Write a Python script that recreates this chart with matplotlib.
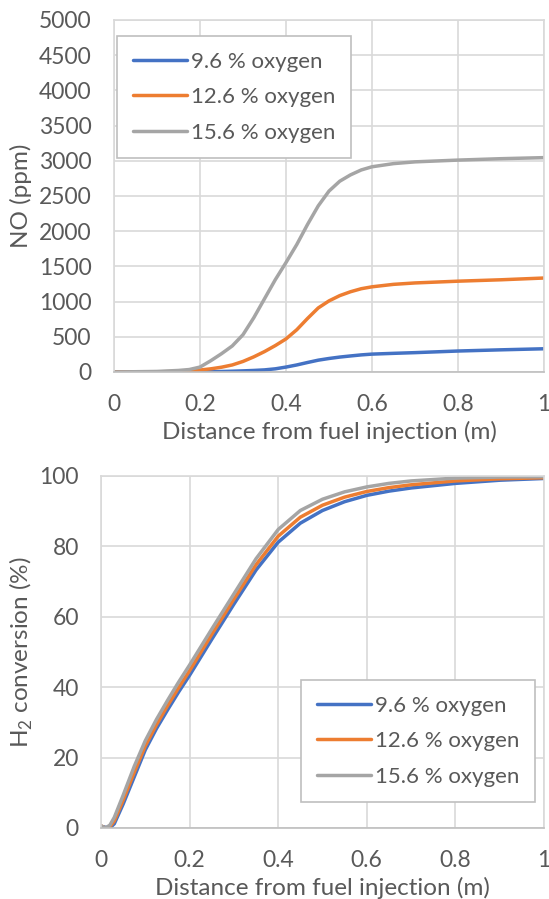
import numpy as np
import matplotlib.pyplot as plt

plt.rcParams['font.family'] = ['Lato', 'DejaVu Sans']
plt.rcParams['mathtext.fontset'] = 'custom'
plt.rcParams['mathtext.rm'] = 'Lato'

labels = ['9.6 % oxygen', '12.6 % oxygen', '15.6 % oxygen']
colors = ['#4472C4', '#ED7D31', '#A5A5A5']

# NO profiles (ppm) vs distance (m)
x_no = [0, 0.1, 0.15, 0.175, 0.2, 0.225, 0.25, 0.275, 0.3, 0.325, 0.35, 0.375, 0.4,
        0.425, 0.45, 0.475, 0.5, 0.525, 0.55, 0.575, 0.6, 0.65, 0.7, 0.8, 0.9, 1.0]
no_96 = [0, 0, 0, 1, 2, 4, 7, 11, 16, 22, 30, 45, 70,
         100, 135, 168, 192, 212, 228, 243, 254, 265, 275, 298, 315, 330]
no_126 = [0, 2, 8, 15, 28, 45, 68, 100, 150, 215, 290, 375, 470,
          600, 760, 910, 1010, 1085, 1140, 1183, 1210, 1245, 1265, 1290, 1310, 1335]
no_156 = [0, 8, 22, 35, 70, 160, 260, 370, 530, 770, 1040, 1310, 1555,
          1810, 2095, 2360, 2570, 2710, 2800, 2870, 2915, 2960, 2985, 3010, 3030, 3045]

# H2 conversion (%) vs distance (m)
x_h2 = [0, 0.01, 0.02, 0.03, 0.05, 0.075, 0.1, 0.125, 0.15, 0.175, 0.2, 0.25, 0.3,
        0.35, 0.4, 0.45, 0.5, 0.55, 0.6, 0.65, 0.7, 0.8, 0.9, 1.0]
h2_96 = [0.5, 0.2, 0, 1.2, 6.8, 14.5, 22.2, 28.2, 33.5, 38.6, 43.4, 53.6, 63.6,
         73.3, 81.2, 86.6, 90.2, 92.7, 94.5, 95.7, 96.6, 97.9, 98.8, 99.3]
h2_126 = [0.6, 0, 0.3, 2.0, 7.9, 15.8, 23.3, 29.3, 34.7, 39.8, 44.7, 55.0, 65.0,
          74.8, 82.9, 88.3, 91.7, 94.0, 95.6, 96.7, 97.5, 98.6, 99.2, 99.5]
h2_156 = [0.6, 0, 0.8, 3.0, 9.3, 17.5, 24.8, 30.8, 36.2, 41.4, 46.3, 56.5, 66.5,
          76.5, 84.8, 90.2, 93.4, 95.5, 96.9, 97.9, 98.6, 99.4, 99.7, 99.8]

grid_c = '#D9D9D9'
text_c = '#595959'

fig = plt.figure(figsize=(5.49, 8.99), dpi=100)
ax1 = fig.add_axes([114 / 549, 1 - 372 / 899, 430 / 549, 352 / 899])
ax2 = fig.add_axes([101 / 549, 1 - 828 / 899, 443 / 549, 352 / 899])


def style(ax, yticks):
    ax.set_xlim(0, 1)
    ax.set_xticks([0, 0.2, 0.4, 0.6, 0.8, 1])
    ax.set_xticklabels(['0', '0.2', '0.4', '0.6', '0.8', '1'])
    ax.set_yticks(yticks)
    ax.set_ylim(yticks[0], yticks[-1])
    ax.grid(True, color=grid_c, linewidth=1.2)
    ax.set_axisbelow(True)
    for s in ['top', 'right', 'left']:
        ax.spines[s].set_color(grid_c)
        ax.spines[s].set_linewidth(1.2)
    ax.spines['bottom'].set_color('#BFBFBF')
    ax.spines['bottom'].set_linewidth(1.2)
    ax.tick_params(length=0, labelsize=16.5, labelcolor=text_c, pad=16)
    ax.set_xlabel('Distance from fuel injection (m)', fontsize=17.5, color=text_c)
    ax.xaxis.set_label_coords(0.5, -0.17)
    ax.xaxis.label.set_va('center')


def add_legend(ax, anchor):
    leg = ax.legend(loc='upper left', bbox_to_anchor=anchor, borderaxespad=0, fontsize=16,
                    frameon=True, fancybox=False, edgecolor='#BFBFBF', framealpha=1,
                    handlelength=2.45, handletextpad=0.2, labelspacing=0.7, borderpad=0.7)
    leg.get_frame().set_linewidth(1.2)
    for t in leg.get_texts():
        t.set_color(text_c)


for ys, lab, c in zip([no_96, no_126, no_156], labels, colors):
    ax1.plot(x_no, ys, color=c, linewidth=2.5, label=lab, solid_capstyle='round')
style(ax1, list(range(0, 5001, 500)))
ax1.set_ylabel('NO (ppm)', fontsize=17.5, color=text_c)
ax1.yaxis.set_label_coords((21 - 114) / 430, 0.5)
ax1.yaxis.label.set_va('center')
add_legend(ax1, (3 / 430, 1 - 16 / 352))

for ys, lab, c in zip([h2_96, h2_126, h2_156], labels, colors):
    ax2.plot(x_h2, ys, color=c, linewidth=2.5, label=lab, solid_capstyle='round')
style(ax2, list(range(0, 101, 20)))
ax2.set_ylabel(r'H$_2$ conversion (%)', fontsize=17.5, color=text_c)
ax2.yaxis.set_label_coords((21 - 101) / 443, 0.5)
ax2.yaxis.label.set_va('center')
add_legend(ax2, (200 / 443, 148 / 352))

fig.savefig('out.png', dpi=100)
